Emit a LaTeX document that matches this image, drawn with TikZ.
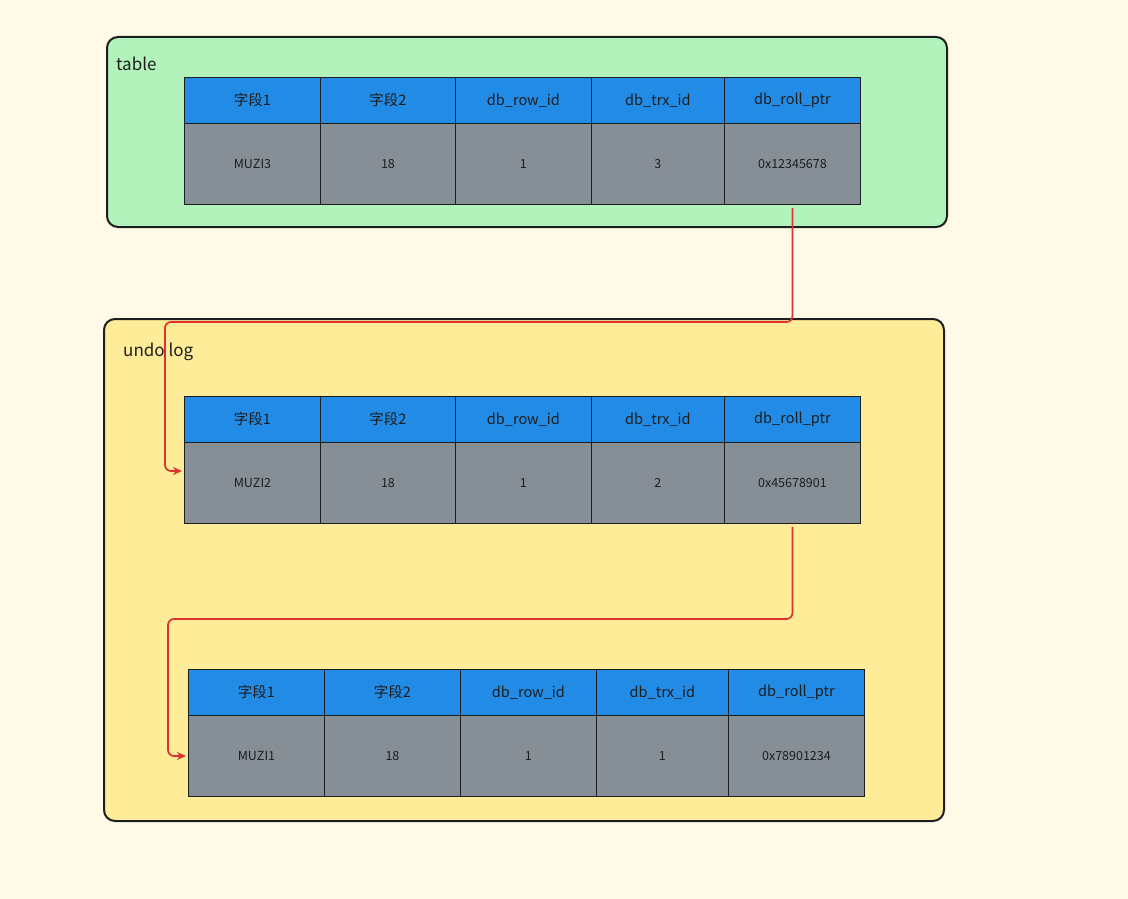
\documentclass[tikz,border=0pt]{standalone}
\usepackage{fontspec}
\setmainfont{Noto Sans CJK SC}
\usetikzlibrary{arrows.meta}
\definecolor{bgc}{HTML}{FFF9E8}
\definecolor{greenc}{HTML}{B2F2BB}
\definecolor{yellowc}{HTML}{FFEC99}
\definecolor{bluec}{HTML}{228BE6}
\definecolor{greyc}{HTML}{868E96}
\definecolor{redc}{HTML}{E03131}
\definecolor{inkc}{HTML}{1E1E1E}
\tikzset{
  group/.style={draw=inkc, line width=2pt, rounded corners=11pt},
  cellbase/.style={draw=inkc, line width=0.9pt, anchor=north west, inner sep=0pt, text=inkc},
  hcell/.style={cellbase, fill=bluec, minimum height=46pt, font=\fontsize{14.5}{16}\selectfont},
  bcell/.style={cellbase, fill=greyc, minimum height=81pt, font=\fontsize{12.5}{14}\selectfont},
  grouplabel/.style={anchor=west, inner sep=0pt, text=inkc, font=\fontsize{17}{19}\selectfont},
  arr/.style={draw=redc, line width=1.7pt, rounded corners=6pt, -{Stealth[length=9pt,width=8pt]}},
}
\begin{document}
\begin{tikzpicture}[x=1pt,y=-1pt]
\path[fill=bgc] (0,0) rectangle (1128,899);
\useasboundingbox (0,0) rectangle (1128,899);
% groups
\node[group, fill=greenc, minimum width=840pt, minimum height=190pt, anchor=north west] (gtable) at (106,36) {};
\node[group, fill=yellowc, minimum width=840pt, minimum height=502pt, anchor=north west] (gundo) at (103,318) {};
\node[grouplabel] (ltable) at (116,64) {table};
\node[grouplabel] (lundo) at (123,352) {undo log};
% table 1
\node[hcell, minimum width=136pt] (t1h1) at (184,77) {字段1};
\node[hcell, minimum width=135pt] (t1h2) at (320,77) {字段2};
\node[hcell, minimum width=136pt] (t1h3) at (455,77) {db\_row\_id};
\node[hcell, minimum width=133pt] (t1h4) at (591,77) {db\_trx\_id};
\node[hcell, minimum width=136pt] (t1h5) at (724,77) {db\_roll\_ptr};
\node[bcell, minimum width=136pt] (t1b1) at (184,123) {MUZI3};
\node[bcell, minimum width=135pt] (t1b2) at (320,123) {18};
\node[bcell, minimum width=136pt] (t1b3) at (455,123) {1};
\node[bcell, minimum width=133pt] (t1b4) at (591,123) {3};
\node[bcell, minimum width=136pt] (t1b5) at (724,123) {0x12345678};
% table 2
\node[hcell, minimum width=136pt] (t2h1) at (184,396) {字段1};
\node[hcell, minimum width=135pt] (t2h2) at (320,396) {字段2};
\node[hcell, minimum width=136pt] (t2h3) at (455,396) {db\_row\_id};
\node[hcell, minimum width=133pt] (t2h4) at (591,396) {db\_trx\_id};
\node[hcell, minimum width=136pt] (t2h5) at (724,396) {db\_roll\_ptr};
\node[bcell, minimum width=136pt] (t2b1) at (184,442) {MUZI2};
\node[bcell, minimum width=135pt] (t2b2) at (320,442) {18};
\node[bcell, minimum width=136pt] (t2b3) at (455,442) {1};
\node[bcell, minimum width=133pt] (t2b4) at (591,442) {2};
\node[bcell, minimum width=136pt] (t2b5) at (724,442) {0x45678901};
% table 3
\node[hcell, minimum width=136pt] (t3h1) at (188,669) {字段1};
\node[hcell, minimum width=136pt] (t3h2) at (324,669) {字段2};
\node[hcell, minimum width=136pt] (t3h3) at (460,669) {db\_row\_id};
\node[hcell, minimum width=132pt] (t3h4) at (596,669) {db\_trx\_id};
\node[hcell, minimum width=136pt] (t3h5) at (728,669) {db\_roll\_ptr};
\node[bcell, minimum width=136pt] (t3b1) at (188,715) {MUZI1};
\node[bcell, minimum width=136pt] (t3b2) at (324,715) {18};
\node[bcell, minimum width=136pt] (t3b3) at (460,715) {1};
\node[bcell, minimum width=132pt] (t3b4) at (596,715) {1};
\node[bcell, minimum width=136pt] (t3b5) at (728,715) {0x78901234};
% connectors
\coordinate (a1turn) at (165,322);
\coordinate (a1end) at (182,471);
\coordinate (a2turn) at (168,619);
\coordinate (a2end) at (186,756);
\draw[arr] ([yshift=-3pt]t1b5.south) |- (a1turn) |- (a1end);
\draw[arr] ([yshift=-3pt]t2b5.south) |- (a2turn) |- (a2end);
\end{tikzpicture}
\end{document}
